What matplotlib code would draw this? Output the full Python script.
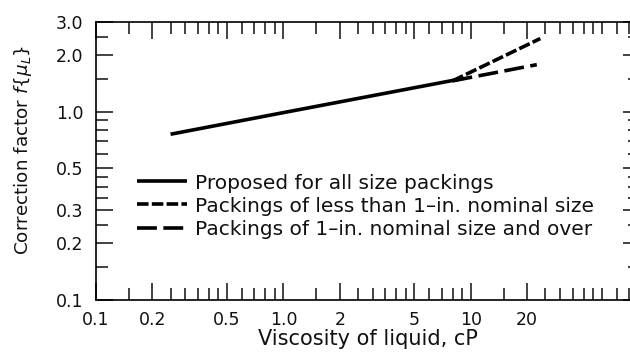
import numpy as np
import matplotlib
matplotlib.use("Agg")
import matplotlib.pyplot as plt

# data (log-log)
visc_all = [0.25, 1.0, 9.0]
corr_all = [0.76, 0.99, 1.50]

visc_small = [8.0, 23.5]
corr_small = [1.46, 2.45]

visc_large = [8.0, 22.5]
corr_large = [1.46, 1.78]

labels = ["Proposed for all size packings",
          "Packings of less than 1\u2013in. nominal size",
          "Packings of 1\u2013in. nominal size and over"]

x_major = [0.1, 0.2, 0.5, 1.0, 2, 5, 10, 20]
x_major_lbl = ["0.1", "0.2", "0.5", "1.0", "2", "5", "10", "20"]
x_minor = [0.15, 0.25, 0.3, 0.35, 0.4, 0.45, 0.6, 0.7, 0.8, 0.9,
           1.5, 2.5, 3, 3.5, 4, 4.5, 6, 7, 8, 9,
           15, 25, 30, 35, 40, 45, 50, 60, 70]
y_major = [0.1, 0.2, 0.3, 0.5, 1.0, 2.0, 3.0]
y_major_lbl = ["0.1", "0.2", "0.3", "0.5", "1.0", "2.0", "3.0"]
y_minor = [0.15, 0.25, 0.35, 0.4, 0.45, 0.6, 0.7, 0.8, 0.9, 1.5, 2.5]

plt.rcParams['font.family'] = ['DejaVu Sans']
plt.rcParams['mathtext.fontset'] = 'dejavusans'

fig = plt.figure(figsize=(6.3, 3.56), dpi=100)
ax = fig.add_axes([96/630, 56/356, 544/630, 278/356])

lw = 2.6
ax.plot(visc_all, corr_all, color="black", lw=lw, solid_capstyle="butt", label=labels[0])
ax.plot(visc_small, corr_small, color="black", lw=lw, linestyle=(0, (3.2, 0.9)),
        dash_capstyle="butt", label=labels[1])
ax.plot(visc_large, corr_large, color="black", lw=lw, linestyle=(0, (5.5, 1.8)),
        dash_capstyle="butt", label=labels[2])

ax.set_xscale("log")
ax.set_yscale("log")
ax.set_xlim(0.1, 80)
ax.set_ylim(0.1, 3.0)

ax.set_xticks(x_major)
ax.set_xticklabels(x_major_lbl)
ax.set_xticks(x_minor, minor=True)
ax.set_xticklabels([], minor=True)
ax.set_yticks(y_major)
ax.set_yticklabels(y_major_lbl)
ax.set_yticks(y_minor, minor=True)
ax.set_yticklabels([], minor=True)

ax.tick_params(which="both", direction="in", top=True, right=True, width=1.2,
               labelsize=12.5, color="#222222", labelcolor="#111111")
ax.tick_params(axis="x", which="both", pad=8)
ax.tick_params(axis="y", which="both", pad=9)
ax.tick_params(which="major", length=12.5)
ax.tick_params(which="minor", length=8.5)
for s in ax.spines.values():
    s.set_linewidth(1.2)

ax.set_xlabel("Viscosity of liquid, cP", fontsize=15, labelpad=0, color="#111111")
ax.set_ylabel(r"Correction factor $f\{\mu_L\}$", fontsize=13.2, labelpad=16, color="#111111")
ax.yaxis.label.set_y(0.54)

ax.legend(loc="upper left", bbox_to_anchor=(0.075, 0.455), frameon=False,
          fontsize=14.5, handlelength=2.5, handletextpad=0.4,
          labelspacing=0.2, borderpad=0, borderaxespad=0, labelcolor="#111111")

fig.savefig("out.png", dpi=100)
